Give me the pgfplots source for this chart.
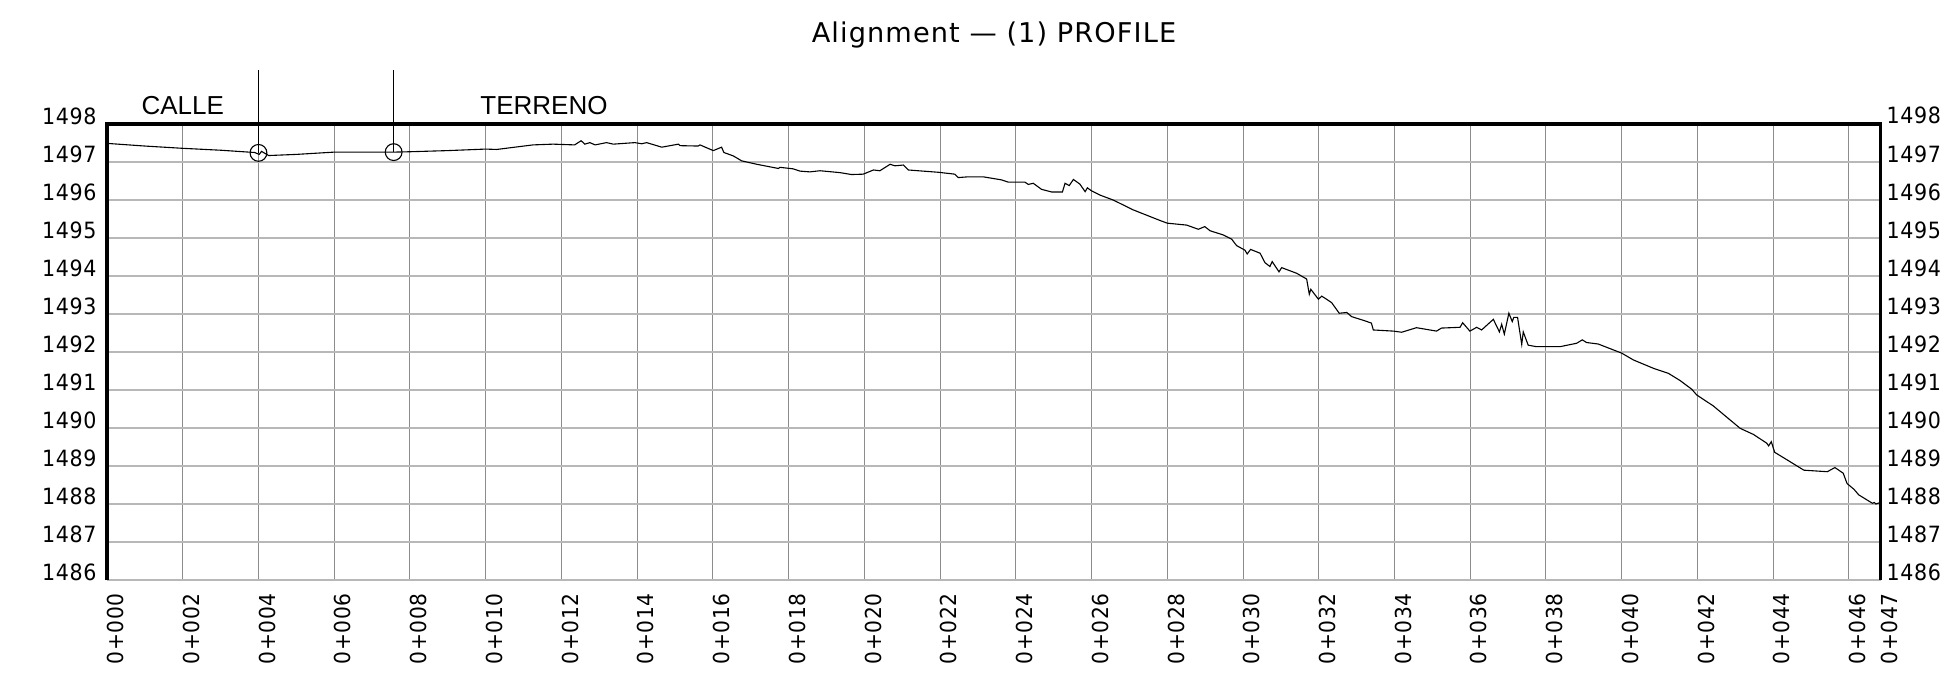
\documentclass[border=0pt]{standalone}
\usepackage{fontspec}
\setmainfont{DejaVu Sans}
\newfontfamily\cadfont{DejaVu Sans}[LetterSpace=4]
\newfontfamily\tickfont{DejaVu Sans}[LetterSpace=3, FakeStretch=0.92]
\newfontfamily\arialfont{Liberation Sans}
\usepackage{pgfplots}
\usepackage{pgfplotstable}
\pgfplotsset{compat=1.18}

\pgfplotstableread{
s z
0 1497.49
1 1497.42
2 1497.36
3 1497.31
3.9 1497.25
4.02 1497.20
4.08 1497.28
4.27 1497.17
5 1497.20
6 1497.26
7 1497.26
7.57 1497.26
8 1497.27
9 1497.30
10 1497.34
10.29 1497.33
11.25 1497.45
11.78 1497.47
12.35 1497.45
12.52 1497.56
12.62 1497.47
12.75 1497.51
12.89 1497.45
13.19 1497.51
13.37 1497.47
13.94 1497.51
14.12 1497.48
14.25 1497.51
14.65 1497.39
15.09 1497.47
15.13 1497.43
15.61 1497.42
15.66 1497.45
16.01 1497.30
16.23 1497.39
16.29 1497.25
16.54 1497.16
16.76 1497.03
17.16 1496.94
17.73 1496.83
17.77 1496.86
18.12 1496.82
18.30 1496.76
18.56 1496.74
18.83 1496.77
19.36 1496.72
19.66 1496.67
19.97 1496.68
20.24 1496.79
20.41 1496.77
20.68 1496.94
20.81 1496.90
21.03 1496.92
21.16 1496.79
21.42 1496.77
21.95 1496.73
22.39 1496.68
22.48 1496.59
22.74 1496.61
23.14 1496.61
23.62 1496.53
23.80 1496.47
24.24 1496.47
24.33 1496.41
24.46 1496.44
24.68 1496.28
24.95 1496.21
25.23 1496.21
25.30 1496.44
25.41 1496.38
25.52 1496.54
25.69 1496.42
25.83 1496.22
25.89 1496.32
26.00 1496.24
26.22 1496.13
26.57 1496.00
27.10 1495.74
27.81 1495.46
28.00 1495.39
28.51 1495.34
28.82 1495.23
28.99 1495.30
29.13 1495.19
29.48 1495.08
29.70 1494.97
29.83 1494.80
30.05 1494.68
30.11 1494.58
30.20 1494.70
30.45 1494.60
30.58 1494.35
30.71 1494.25
30.77 1494.38
30.95 1494.11
31.02 1494.22
31.42 1494.07
31.68 1493.92
31.75 1493.52
31.79 1493.65
31.99 1493.39
32.08 1493.47
32.34 1493.30
32.54 1493.02
32.74 1493.04
32.87 1492.93
33.22 1492.82
33.39 1492.76
33.44 1492.58
33.97 1492.55
34.19 1492.52
34.58 1492.64
35.11 1492.55
35.24 1492.63
35.73 1492.65
35.80 1492.77
35.99 1492.55
36.17 1492.65
36.30 1492.58
36.61 1492.86
36.77 1492.53
36.83 1492.73
36.90 1492.47
37.02 1493.02
37.11 1492.80
37.15 1492.91
37.25 1492.91
37.36 1492.20
37.40 1492.53
37.53 1492.18
37.75 1492.14
38.37 1492.14
38.81 1492.23
38.96 1492.32
39.07 1492.25
39.38 1492.21
40.00 1491.97
40.31 1491.79
40.84 1491.57
41.23 1491.44
41.54 1491.25
41.85 1491.02
41.98 1490.87
42.42 1490.58
42.78 1490.28
43.13 1489.99
43.48 1489.83
43.83 1489.60
43.88 1489.53
43.95 1489.64
44.04 1489.36
44.37 1489.16
44.81 1488.89
45.43 1488.85
45.63 1488.96
45.85 1488.81
45.95 1488.54
46.13 1488.39
46.26 1488.24
46.62 1488.02
46.67 1488.04
46.71 1488.00
46.80 1488.03
}\profile

\pgfplotsset{
  cadaxis/.style={
    at={(53.5pt,-290pt)}, anchor=south west,
    scale only axis, width=886.85pt, height=228pt,
    xmin=0, xmax=46.84, ymin=1486, ymax=1498,
    major tick length=0pt,
    ytick={1486,1487,1488,1489,1490,1491,1492,1493,1494,1495,1496,1497,1498},
    yticklabels={1486,1487,1488,1489,1490,1491,1492,1493,1494,1495,1496,1497,1498},
  }
}

\begin{document}
\begin{tikzpicture}[x=1pt,y=1pt]
\path[use as bounding box] (0,0) rectangle (973,-342);
\node[anchor=base, inner sep=0pt, font=\cadfont\fontsize{13.6}{15}\selectfont] at (497,-21.35) {Alignment — (1) PROFILE};

\begin{axis}[cadaxis,
  clip=false,
  axis line style={draw=none},
  xmajorgrids, ymajorgrids,
  x grid style={black!45, line width=0.5pt},
  y grid style={black!28, line width=0.7pt},
  xtick={0,2,4,6,8,10,12,14,16,18,20,22,24,26,28,30,32,34,36,38,40,42,44,46,46.84},
  xticklabels={0+000,0+002,0+004,0+006,0+008,0+010,0+012,0+014,0+016,0+018,0+020,0+022,0+024,0+026,0+028,0+030,0+032,0+034,0+036,0+038,0+040,0+042,0+044,0+046,0+047},
  xticklabel style={rotate=90, anchor=north east, inner sep=0pt, font=\tickfont\fontsize{11}{12}\selectfont},
  xticklabel shift=6.5pt,
  yticklabel style={anchor=base east, inner sep=0pt, font=\tickfont\fontsize{11.2}{12}\selectfont},
  yticklabel shift=5pt,
]
\addplot[black, line width=0.55pt, mark=none] table[x=s, y=z] {\profile};
\addplot[black, line width=0.5pt, mark=none] coordinates {(4,1497.24) (4,1499.42)};
\addplot[black, line width=0.5pt, mark=none] coordinates {(7.57,1497.26) (7.57,1499.42)};
\addplot[black, only marks, mark=o, mark size=4.2pt, mark options={line width=0.55pt, black}] coordinates {(4,1497.24) (7.57,1497.26)};
\draw[line width=1.7pt] (rel axis cs:0,0) -- (rel axis cs:0,1) -- (rel axis cs:1,1) -- (rel axis cs:1,0);
\node[anchor=base, inner sep=0pt, font=\arialfont\fontsize{13}{15}\selectfont] at (axis cs:2,1498.24) {CALLE};
\node[anchor=base, inner sep=0pt, font=\arialfont\fontsize{13}{15}\selectfont] at (axis cs:11.54,1498.24) {TERRENO};
\end{axis}

\begin{axis}[cadaxis,
  hide x axis,
  axis y line*=right,
  axis line style={draw=none},
  yticklabel style={anchor=base west, inner sep=0pt, font=\tickfont\fontsize{11.2}{12}\selectfont},
  yticklabel shift=2.75pt,
]
\addplot[draw=none] coordinates {(0,1490)};
\end{axis}
\end{tikzpicture}
\end{document}
